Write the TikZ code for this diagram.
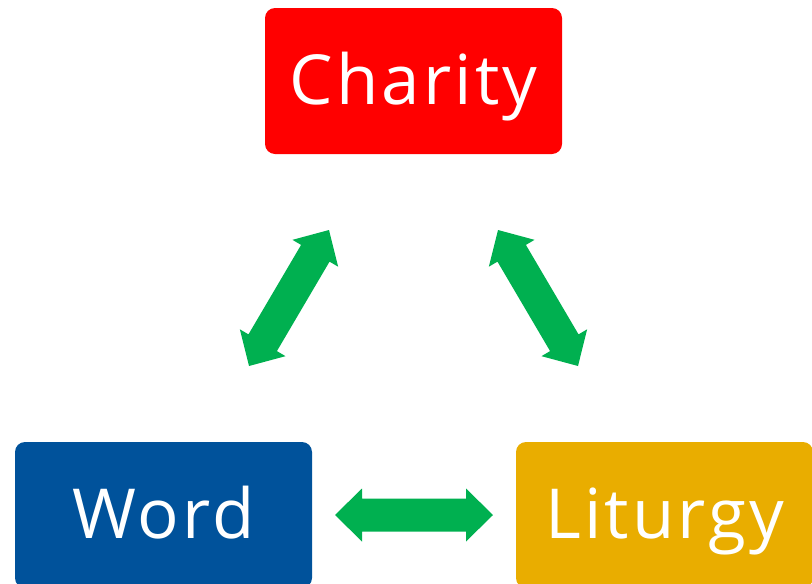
\documentclass[tikz,border=0pt]{standalone}
\usepackage{fontspec}
\setmainfont{Open Sans}
\newfontfamily\boxfont{Open Sans}[LetterSpace=4.5]
\usetikzlibrary{calc}
\definecolor{charityred}{HTML}{FF0000}
\definecolor{wordblue}{HTML}{00529B}
\definecolor{liturgygold}{HTML}{E9AD00}
\definecolor{arrowgreen}{HTML}{00B050}
\tikzset{
  box/.style={rounded corners=10pt, minimum width=297pt, minimum height=146pt,
    inner sep=0pt, text=white, font=\boxfont\fontsize{69}{80}\selectfont,
    text height=50pt, text depth=4pt},
}
\newcommand{\dblarrow}[2]{%
  \fill[arrowgreen] (#1)
   -- ($(#1)!27pt!(#2)!26.5pt!90:(#2)$)
   -- ($(#1)!27pt!(#2)!16.5pt!90:(#2)$)
   -- ($(#2)!27pt!(#1)!16.5pt!-90:(#1)$)
   -- ($(#2)!27pt!(#1)!26.5pt!-90:(#1)$)
   -- (#2)
   -- ($(#2)!27pt!(#1)!26.5pt!90:(#1)$)
   -- ($(#2)!27pt!(#1)!16.5pt!90:(#1)$)
   -- ($(#1)!27pt!(#2)!16.5pt!-90:(#2)$)
   -- ($(#1)!27pt!(#2)!26.5pt!-90:(#2)$)
   -- cycle;}
\begin{document}
\begin{tikzpicture}[x=1pt,y=-1pt]
\useasboundingbox (0,0) rectangle (812,584);
\clip (0,0) rectangle (812,584);
\node[box, fill=charityred] (charity) at (413.5,81) {Charity};
\node[box, fill=wordblue] (word) at (163.5,515) {Word};
\node[box, fill=liturgygold] (liturgy) at (664.5,515) {Liturgy};
\coordinate (lb) at (249,366);
\coordinate (lt) at (329,230);
\coordinate (rt) at (498,230);
\coordinate (rb) at (578,366);
\coordinate (bl) at (335,515);
\coordinate (br) at (493,515);
\dblarrow{lb}{lt}
\dblarrow{rt}{rb}
\dblarrow{bl}{br}
\end{tikzpicture}
\end{document}
